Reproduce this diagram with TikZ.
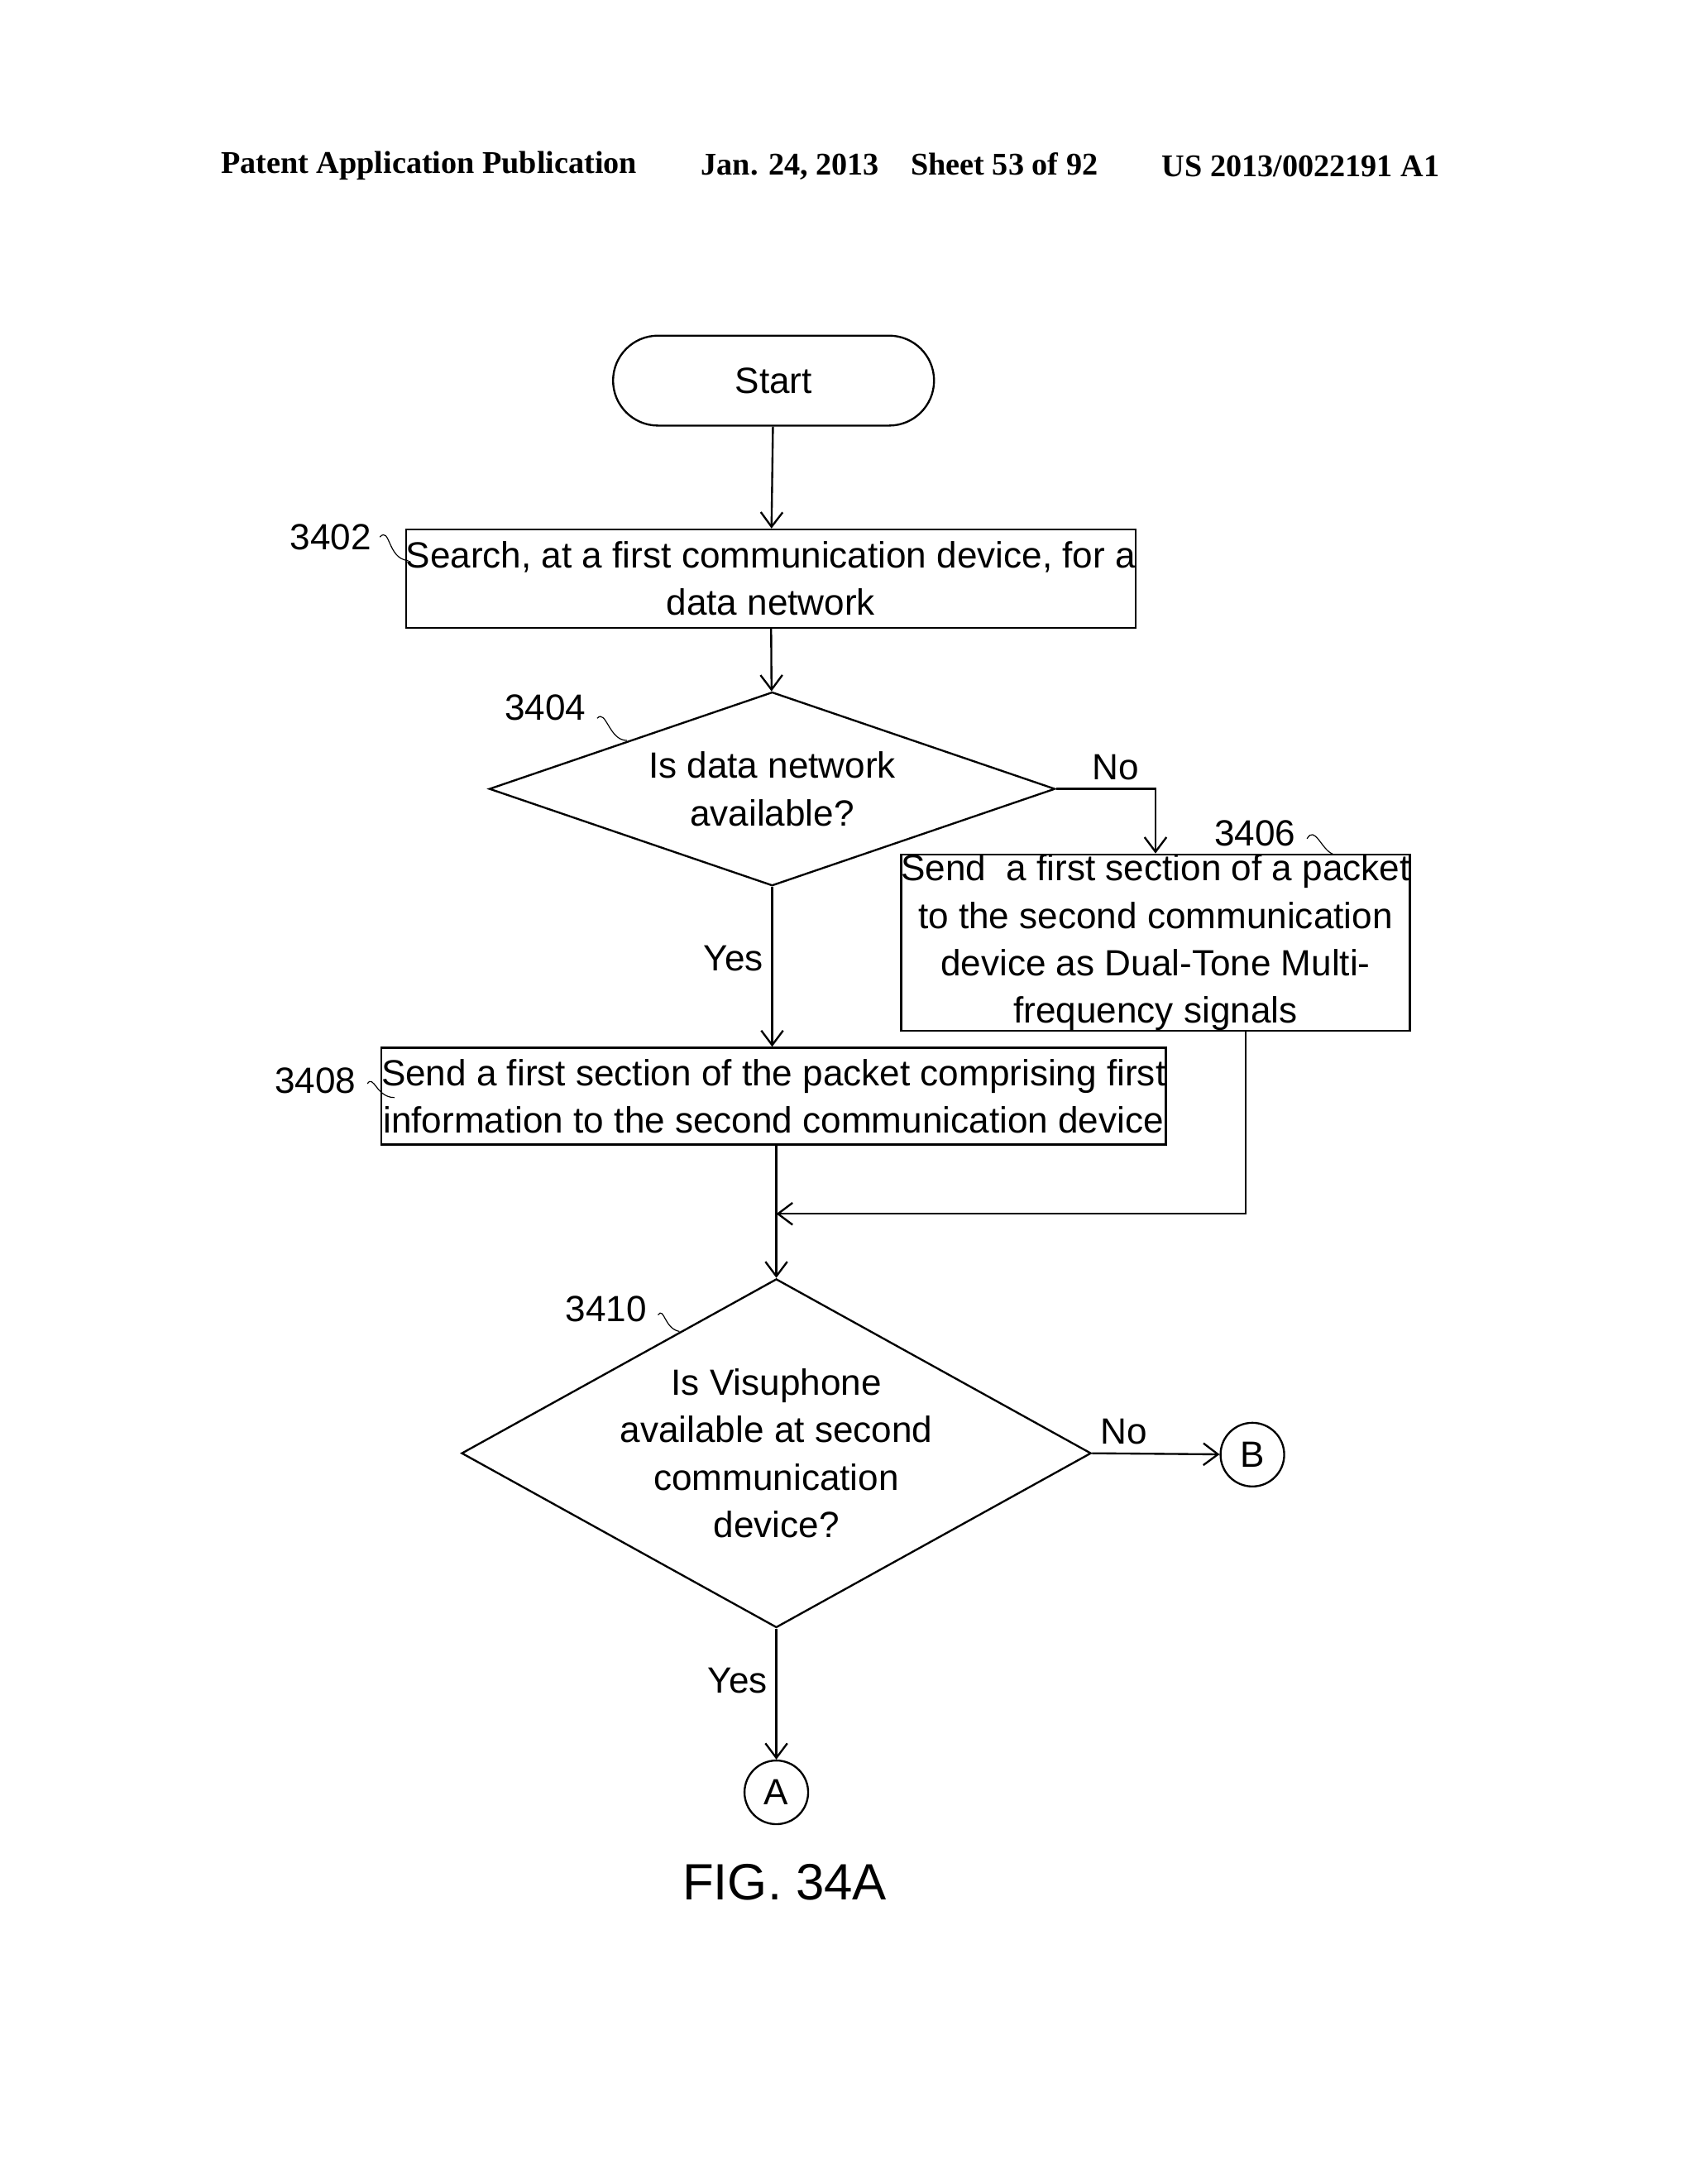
\documentclass[tikz,border=0pt]{standalone}
\usepackage{fontspec}
\setmainfont{Liberation Sans}
\newfontfamily\hdrfont{Liberation Serif}
\usetikzlibrary{shapes.geometric,arrows.meta}
\begin{document}
\begin{tikzpicture}[x=0.02cm,y=-0.02cm,
                   every node/.style = {align = center,
                                        font  = \fontsize{15}{19.5}\selectfont},
                   step box/.style   = {draw, thick, rectangle, inner sep=0pt},
                   decision/.style   = {draw, thick, diamond, inner sep=0pt},
                   joint/.style      = {draw, thick, circle, minimum size=0.92cm, inner sep=0pt},
                   flow edge/.style  = {-{Straight Barb[length=6pt,width=9pt]}, thick},
                   tag edge/.style   = {thin}]
\useasboundingbox (0,0) rectangle (1224,1578);

% header
\node[font=\hdrfont\bfseries\fontsize{13}{15}\selectfont] (hdrA) at (310,120) {Patent Application Publication};
\node[font=\hdrfont\bfseries\fontsize{13}{15}\selectfont] (hdrB) at (650,120) {Jan. 24, 2013\quad Sheet 53 of 92};
\node[font=\hdrfont\bfseries\fontsize{13}{15}\selectfont] (hdrC) at (940,120) {US 2013/0022191 A1};

% the nodes
\node[step box, rounded corners=0.65cm, minimum width=4.64cm, minimum height=1.3cm] (start) at (559,275) {Start};
\node[step box, minimum width=10.5cm, minimum height=1.42cm] (s3402) at (557,418) {Search, at a first communication device, for a\\ data network};
\node[decision, minimum width=8.18cm, minimum height=2.8cm, aspect=2.9] (d3404) at (558,570) {Is data network\\ available?};
\node[step box, minimum width=7.22cm, minimum height=2.54cm] (s3406) at (835,681) {Send \ a first section of a packet\\ to the second communication\\ device as Dual-Tone Multi-\\ frequency signals};
\node[step box, minimum width=10.96cm, minimum height=1.4cm] (s3408) at (559,792) {Send a first section of the packet comprising first\\ information to the second communication device};
\coordinate (merge) at (561,877);
\node[decision, minimum width=9.1cm, minimum height=5.04cm, aspect=1.8] (d3410) at (561,1050) {Is Visuphone\\ available at second\\ communication\\ device?};
\node[joint] (connB) at (905,1051) {B};
\node[joint] (connA) at (561,1295) {A};
\node[font=\fontsize{21}{24}\selectfont] (fig) at (567,1360) {FIG. 34A};

% reference numbers
\node (n3402) at (239,388) {3402};
\node (n3404) at (394,511) {3404};
\node (n3406) at (907,602) {3406};
\node (n3408) at (228,781) {3408};
\node (n3410) at (438,946) {3410};
\draw[tag edge] (n3402.east) .. controls (282,380) and (280,404) .. (295,405);
\draw[tag edge] (n3404.east) ++(2,8) .. controls (438,512) and (440,535) .. (453,535);
\draw[tag edge] (n3406.east) ++(2,4) .. controls (950,596) and (955,614) .. (963,617);
\draw[tag edge] (n3408.east) ++(2,2) .. controls (270,776) and (272,793) .. (285,793);
\draw[tag edge] (n3410.east) ++(2,4) .. controls (480,944) and (480,960) .. (491,962);

% edges
\draw[flow edge] (start) -- (s3402);
\draw[flow edge] (s3402) -- (d3404);
\draw[flow edge] (d3404.east) -| node[pos=0.3, above] {No} (s3406.north);
\draw[flow edge] (d3404.south) -- node[pos=0.45, left] {Yes} (s3408.north -| d3404.south);
\draw[thick] (s3408.south -| merge) -- (merge);
\draw[flow edge] (s3406.south -| 900,0) |- (merge);
\draw[flow edge] (merge) -- (d3410.north);
\draw[flow edge] (d3410.east) -- node[pos=0.25, above] {No} (connB);
\draw[flow edge] (d3410.south) -- node[pos=0.4, left] {Yes} (connA);
\end{tikzpicture}
\end{document}
